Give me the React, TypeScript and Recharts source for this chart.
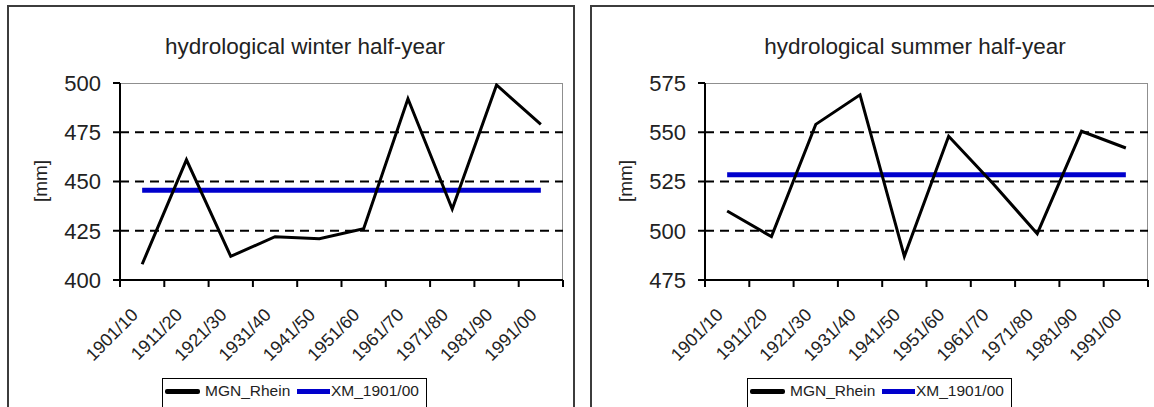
import { Line, LineChart, ReferenceLine, XAxis, YAxis } from "recharts";

const decades = [
  "1901/10",
  "1911/20",
  "1921/30",
  "1931/40",
  "1941/50",
  "1951/60",
  "1961/70",
  "1971/80",
  "1981/90",
  "1991/00",
];
const winterRain = [408, 461, 412, 422, 421, 426, 492, 436, 499, 479];
const summerRain = [510, 497, 554, 569, 487, 548, 524, 498.5, 550.5, 542];
const winterMean = 445.6;
const summerMean = 528.4;
const winterTicks = [400, 425, 450, 475, 500];
const summerTicks = [475, 500, 525, 550, 575];
const seriesNames = ["MGN_Rhein", "XM_1901/00"];

const FONT = '"Liberation Sans", Arial, sans-serif';
const TEXT = "#222";
const PLOT_TOP = 83;
const PLOT_BOTTOM = 280;
const PLOT_W = 443;
const Y_AXIS_W = 100;
const CHART_H = 407;

function DecadeTick(props: any) {
  const { x, y, payload, index, half, last } = props;
  const tx = x - 3;
  const ty = y + 36;
  return (
    <g>
      <line x1={x - half} x2={x - half} y1={y} y2={y + 7} stroke="#000" strokeWidth={2} />
      {index === last && (
        <line x1={x + half} x2={x + half} y1={y} y2={y + 7} stroke="#000" strokeWidth={2} />
      )}
      <text
        x={tx}
        y={ty}
        textAnchor="end"
        transform={`rotate(-45, ${tx}, ${ty})`}
        fontSize={18}
        fontFamily={FONT}
        fill={TEXT}
      >
        {payload.value}
      </text>
    </g>
  );
}

interface PanelProps {
  title: string;
  values: number[];
  mean: number;
  ticks: number[];
  chartLeft: number;
  chartWidth: number;
  borderLeft: number;
  titleX: number;
  legendLeft: number;
}

function Panel({
  title,
  values,
  mean,
  ticks,
  chartLeft,
  chartWidth,
  borderLeft,
  titleX,
  legendLeft,
}: PanelProps) {
  const data = decades.map((decade, i) => ({ decade, value: values[i] }));
  const half = PLOT_W / decades.length / 2;
  const plotLeft = chartLeft + 120;
  const rightMargin = chartWidth - 120 - PLOT_W;

  return (
    <>
      <div
        style={{
          position: "absolute",
          left: borderLeft,
          top: 5,
          width: 568,
          height: 420,
          border: "2px solid #3c3c3c",
          boxSizing: "border-box",
        }}
      />
      <div
        style={{
          position: "absolute",
          left: plotLeft,
          top: PLOT_TOP,
          width: PLOT_W,
          height: PLOT_BOTTOM - PLOT_TOP,
          borderTop: "1px solid #8f8f8f",
          borderRight: "1px solid #8f8f8f",
          boxSizing: "border-box",
        }}
      />
      <div
        style={{
          position: "absolute",
          left: titleX,
          top: 36,
          transform: "translateX(-50%)",
          fontSize: 22.5,
          lineHeight: "22px",
          whiteSpace: "nowrap",
          color: TEXT,
        }}
      >
        {title}
      </div>
      <div
        style={{
          position: "absolute",
          left: chartLeft + 40,
          top: 181,
          transform: "translate(-50%, -50%) rotate(-90deg)",
          fontSize: 19,
          lineHeight: "19px",
          whiteSpace: "nowrap",
          color: TEXT,
        }}
      >
        [mm]
      </div>
      <div style={{ position: "absolute", left: chartLeft, top: 0 }}>
        <LineChart
          width={chartWidth}
          height={CHART_H}
          data={data}
          margin={{
            top: PLOT_TOP,
            right: rightMargin,
            left: 120 - Y_AXIS_W,
            bottom: CHART_H - PLOT_BOTTOM - 60,
          }}
        >
          <XAxis
            dataKey="decade"
            height={60}
            interval={0}
            padding={{ left: half, right: half }}
            tickSize={0}
            tickMargin={0}
            tickLine={false}
            axisLine={{ stroke: "#000", strokeWidth: 2 }}
            tick={(p: any) => (
              <DecadeTick {...p} half={half} last={decades.length - 1} />
            )}
          />
          <YAxis
            type="number"
            domain={[ticks[0], ticks[ticks.length - 1]]}
            ticks={ticks}
            allowDataOverflow
            width={Y_AXIS_W}
            tickSize={7}
            tickMargin={12}
            axisLine={{ stroke: "#000", strokeWidth: 2 }}
            tickLine={{ stroke: "#000", strokeWidth: 2 }}
            tick={{ fontSize: 22, fill: TEXT, fontFamily: FONT }}
          />
          {ticks.slice(1, -1).map((t) => (
            <ReferenceLine
              key={t}
              y={t}
              stroke="#000"
              strokeWidth={2}
              strokeDasharray="9 6"
            />
          ))}
          <ReferenceLine
            segment={[
              { x: decades[0], y: mean },
              { x: decades[decades.length - 1], y: mean },
            ]}
            stroke="#0000cc"
            strokeWidth={5}
          />
          <Line
            type="linear"
            dataKey="value"
            stroke="#000"
            strokeWidth={3}
            dot={false}
            isAnimationActive={false}
          />
        </LineChart>
      </div>
      <div
        style={{
          position: "absolute",
          left: legendLeft,
          top: 378,
          width: 265,
          height: 40,
          border: "1.5px solid #000",
          boxSizing: "border-box",
          fontSize: 15.5,
          color: TEXT,
        }}
      >
        <div style={{ position: "absolute", left: 2, top: 10, width: 35, height: 5, background: "#000", borderRadius: 2 }} />
        <span style={{ position: "absolute", left: 42, top: 4, lineHeight: "16px" }}>{seriesNames[0]}</span>
        <div style={{ position: "absolute", left: 134, top: 10, width: 33, height: 5, background: "#0000cc" }} />
        <span style={{ position: "absolute", left: 168, top: 4, lineHeight: "16px" }}>{seriesNames[1]}</span>
      </div>
    </>
  );
}

export default function App() {
  return (
    <div
      style={{
        position: "absolute",
        left: 0,
        top: 0,
        width: 1154,
        height: 407,
        overflow: "hidden",
        background: "#fff",
        fontFamily: FONT,
      }}
    >
      <Panel
        title="hydrological winter half-year"
        values={winterRain}
        mean={winterMean}
        ticks={winterTicks}
        chartLeft={0}
        chartWidth={580}
        borderLeft={7}
        titleX={305}
        legendLeft={162}
      />
      <Panel
        title="hydrological summer half-year"
        values={summerRain}
        mean={summerMean}
        ticks={summerTicks}
        chartLeft={585}
        chartWidth={569}
        borderLeft={590}
        titleX={915}
        legendLeft={747}
      />
    </div>
  );
}
